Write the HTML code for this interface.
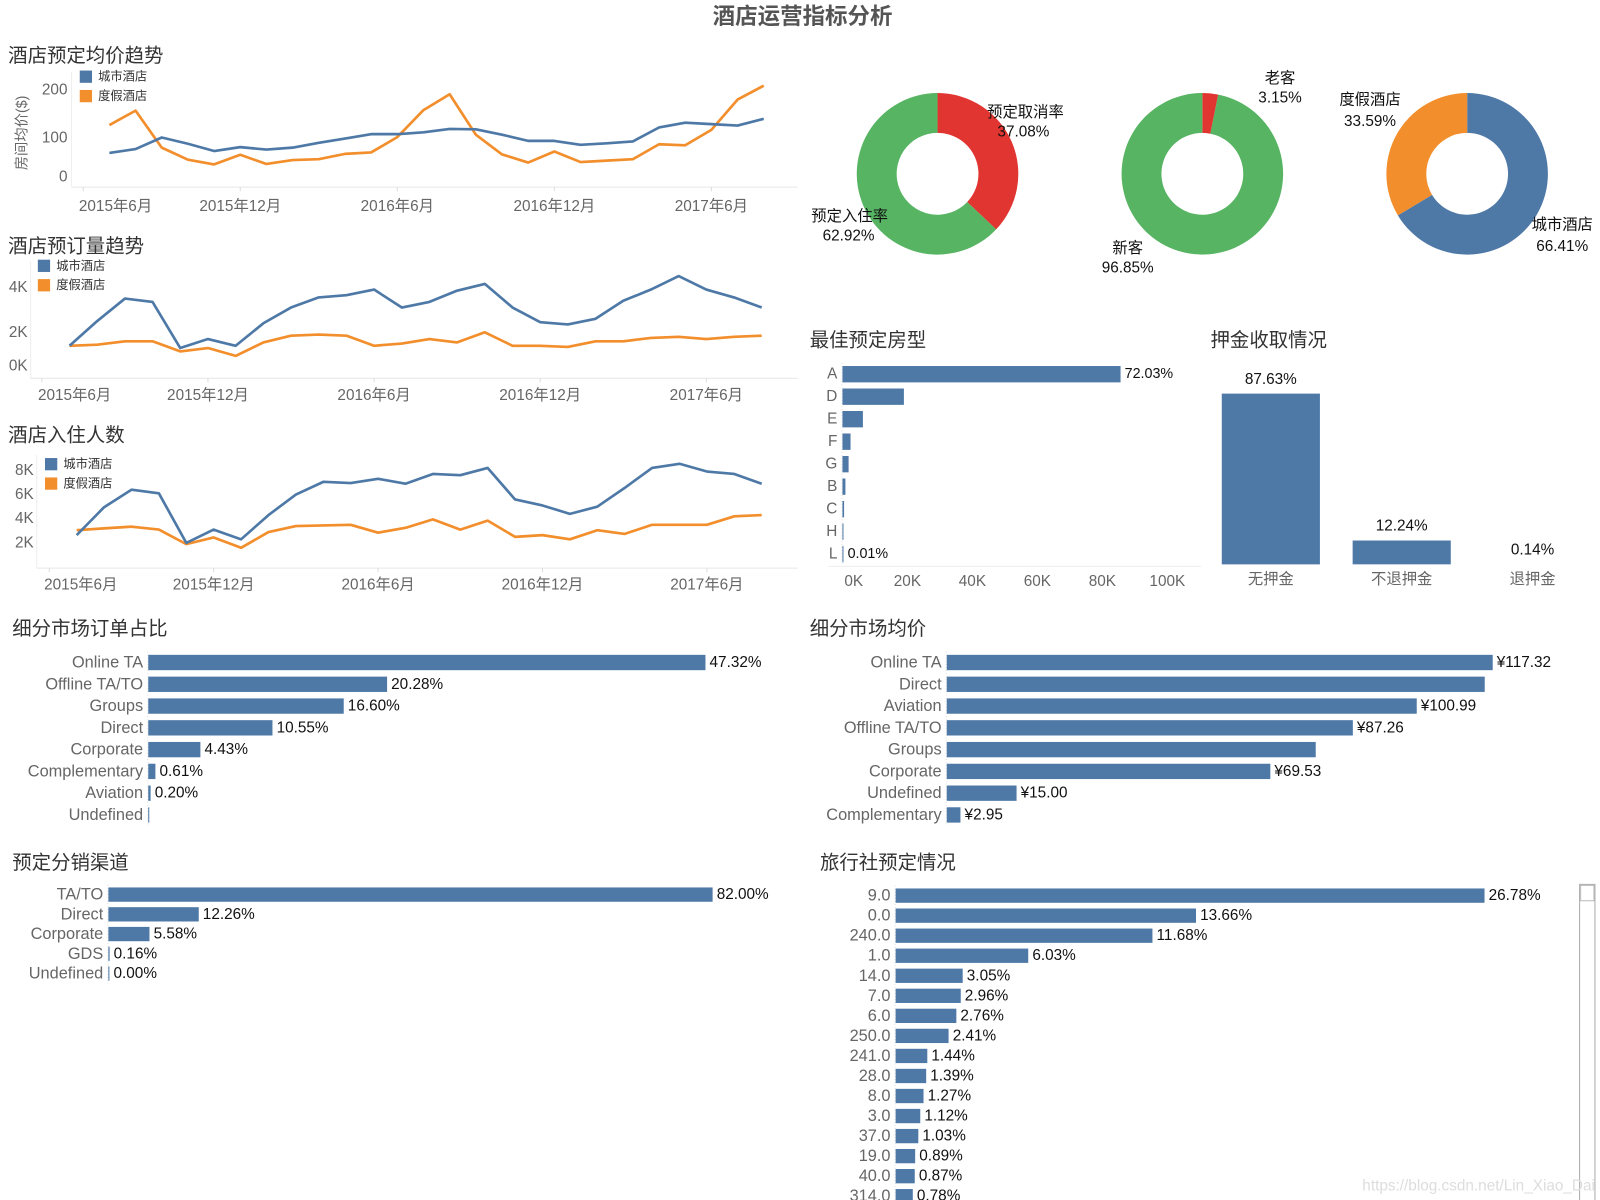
<!DOCTYPE html>
<html><head><meta charset="utf-8"><title>酒店运营指标分析</title>
<style>
html,body{margin:0;padding:0;background:#fff;width:1600px;height:1200px;overflow:hidden;}
#wrap{width:1565px;height:1174px;transform:scale(1.0224);transform-origin:0 0;}
svg text{font-family:"Liberation Sans","Noto Sans CJK SC",sans-serif;}
</style></head>
<body>
<div id="wrap">
<svg id="svg" width="1565" height="1174" viewBox="0 0 1565 1174" xmlns="http://www.w3.org/2000/svg">
<text x="785" y="16" text-anchor="middle" dominant-baseline="central" font-size="22" font-weight="bold" fill="#555">酒店运营指标分析</text>

<text x="8" y="55" dominant-baseline="central" font-size="19" fill="#333">酒店预定均价趋势</text>
<text x="8" y="241" dominant-baseline="central" font-size="19" fill="#333">酒店预订量趋势</text>
<text x="8" y="426" dominant-baseline="central" font-size="19" fill="#333">酒店入住人数</text>
<text x="792" y="333" dominant-baseline="central" font-size="19" fill="#333">最佳预定房型</text>
<text x="1184" y="333" dominant-baseline="central" font-size="19" fill="#333">押金收取情况</text>
<text x="12" y="615" dominant-baseline="central" font-size="19" fill="#333">细分市场订单占比</text>
<text x="792" y="615" dominant-baseline="central" font-size="19" fill="#333">细分市场均价</text>
<text x="12" y="844" dominant-baseline="central" font-size="19" fill="#333">预定分销渠道</text>
<text x="802" y="844" dominant-baseline="central" font-size="19" fill="#333">旅行社预定情况</text>

<text transform="translate(22,130) rotate(-90)" text-anchor="middle" dominant-baseline="central" font-size="14" fill="#666">房间均价($)</text>

<rect x="78" y="69" width="12" height="12" fill="#4E79A7"/>
<text x="96" y="75" dominant-baseline="central" font-size="12" fill="#333">城市酒店</text>
<rect x="78" y="88" width="12" height="12" fill="#F28E2B"/>
<text x="96" y="94" dominant-baseline="central" font-size="12" fill="#333">度假酒店</text>
<rect x="37" y="254" width="12" height="12" fill="#4E79A7"/>
<text x="55" y="260" dominant-baseline="central" font-size="12" fill="#333">城市酒店</text>
<rect x="37" y="273" width="12" height="12" fill="#F28E2B"/>
<text x="55" y="279" dominant-baseline="central" font-size="12" fill="#333">度假酒店</text>
<rect x="44" y="448" width="12" height="12" fill="#4E79A7"/>
<text x="62" y="454" dominant-baseline="central" font-size="12" fill="#333">城市酒店</text>
<rect x="44" y="467" width="12" height="12" fill="#F28E2B"/>
<text x="62" y="473" dominant-baseline="central" font-size="12" fill="#333">度假酒店</text>

<g font-size="15" fill="#111" text-anchor="middle">
<text x="1003" y="110" dominant-baseline="central">预定取消率</text>
<text x="1001" y="129" dominant-baseline="central">37.08%</text>
<text x="831" y="212" dominant-baseline="central">预定入住率</text>
<text x="830" y="231" dominant-baseline="central">62.92%</text>
<text x="1252" y="77" dominant-baseline="central">老客</text>
<text x="1252" y="96" dominant-baseline="central">3.15%</text>
<text x="1103" y="243" dominant-baseline="central">新客</text>
<text x="1103" y="262" dominant-baseline="central">96.85%</text>
<text x="1340" y="98" dominant-baseline="central">度假酒店</text>
<text x="1340" y="119" dominant-baseline="central">33.59%</text>
<text x="1528" y="220" dominant-baseline="central">城市酒店</text>
<text x="1528" y="241" dominant-baseline="central">66.41%</text>
</g>

<rect x="1545" y="865" width="15" height="310" fill="#fff" stroke="#aaa" stroke-width="1"/>
<rect x="1546" y="866" width="13" height="15" fill="#fff" stroke="#bbb" stroke-width="1"/>

<text x="1560" y="1160" text-anchor="end" dominant-baseline="central" font-size="15" fill="#ddd">https://blog.csdn.net/Lin_Xiao_Dai</text>
</svg>
</div>
<script>
const months = ['2015-07','2015-08','2015-09','2015-10','2015-11','2015-12','2016-01','2016-02','2016-03','2016-04','2016-05','2016-06','2016-07','2016-08','2016-09','2016-10','2016-11','2016-12','2017-01','2017-02','2017-03','2017-04','2017-05','2017-06','2017-07','2017-08'];
const timeTickLabels = ['2015年6月','2015年12月','2016年6月','2016年12月','2017年6月'];
const timeTickIndex = [-1,5,11,17,23];
const cityPrice = [69,77,101,88,73,81,76,80,90,99,108,108,112,119,118,107,94,94,86,89,93,122,132,129,126,140];
const resortPrice = [127,157,80,55,45,65,46,54,56,67,70,102,158,191,107,66,49,72,50,53,56,87,85,117,180,209];
const priceTicks = [0,100,200];
const priceTickLabels = ['0','100','200'];
const cityBookings = [1400,2500,3500,3350,1300,1700,1400,2400,3100,3550,3650,3900,3100,3350,3850,4150,3100,2450,2350,2600,3400,3900,4500,3900,3550,3100];
const resortBookings = [1400,1450,1600,1600,1150,1300,950,1550,1850,1900,1850,1400,1500,1700,1550,2000,1400,1400,1350,1600,1600,1750,1800,1700,1800,1850];
const bookingTicks = [0,2000,4000];
const bookingTickLabels = ['0K','2K','4K'];
const cityGuests = [2650,4950,6400,6100,2000,3100,2300,4300,6000,7050,6950,7300,6900,7700,7600,8200,5600,5100,4400,5000,6550,8200,8550,7900,7700,6900];
const resortGuests = [3050,3200,3350,3100,1900,2450,1600,2900,3400,3450,3500,2850,3250,3950,3100,3850,2500,2650,2300,3050,2750,3500,3500,3500,4200,4300];
const guestTicks = [2000,4000,6000,8000];
const guestTickLabels = ['2K','4K','6K','8K'];

const cancelShare = [37.08,62.92];
const guestTypeShare = [3.15,96.85];
const hotelShare = [66.41,33.59];

const roomTypes = ['A','D','E','F','G','B','C','H','L'];
const roomCounts = [85600,18900,6300,2500,1900,900,500,200,10];
const roomLabels = ['72.03%','','','','','','','','0.01%'];
const roomTicks = [0,20000,40000,60000,80000,100000];
const roomTickLabels = ['0K','20K','40K','60K','80K','100K'];

const depositTypes = ['无押金','不退押金','退押金'];
const depositShare = [87.63,12.24,0.14];
const depositLabels = ['87.63%','12.24%','0.14%'];

const segments = ['Online TA','Offline TA/TO','Groups','Direct','Corporate','Complementary','Aviation','Undefined'];
const segmentShare = [47.32,20.28,16.60,10.55,4.43,0.61,0.20,0.002];
const segmentShareLabels = ['47.32%','20.28%','16.60%','10.55%','4.43%','0.61%','0.20%',''];

const priceSegments = ['Online TA','Direct','Aviation','Offline TA/TO','Groups','Corporate','Undefined','Complementary'];
const segmentPrice = [117.32,115.6,100.99,87.26,79.3,69.53,15.00,2.95];
const segmentPriceLabels = ['¥117.32','','¥100.99','¥87.26','','¥69.53','¥15.00','¥2.95'];

const channels = ['TA/TO','Direct','Corporate','GDS','Undefined'];
const channelShare = [82.00,12.26,5.58,0.16,0.00];
const channelLabels = ['82.00%','12.26%','5.58%','0.16%','0.00%'];

const agents = ['9.0','0.0','240.0','1.0','14.0','7.0','6.0','250.0','241.0','28.0','8.0','3.0','37.0','19.0','40.0','314.0'];
const agentShare = [26.78,13.66,11.68,6.03,3.05,2.96,2.76,2.41,1.44,1.39,1.27,1.12,1.03,0.89,0.87,0.78];
const agentLabels = ['26.78%','13.66%','11.68%','6.03%','3.05%','2.96%','2.76%','2.41%','1.44%','1.39%','1.27%','1.12%','1.03%','0.89%','0.87%','0.78%'];

const NS='http://www.w3.org/2000/svg';
const svg=document.getElementById('svg');
function mk(tag,parent){const e=document.createElementNS(NS,tag);(parent||svg).appendChild(e);return e;}
function txt(parent,x,y,s,size,fill,anchor){const e=mk('text',parent);e.setAttribute('x',x);e.setAttribute('y',y);e.setAttribute('font-size',size);e.setAttribute('fill',fill);e.setAttribute('text-anchor',anchor||'start');e.setAttribute('dominant-baseline','central');e.textContent=s;return e;}
function line(parent,x1,y1,x2,y2,c){const e=mk('line',parent);e.setAttribute('x1',x1);e.setAttribute('y1',y1);e.setAttribute('x2',x2);e.setAttribute('y2',y2);e.setAttribute('stroke',c);e.setAttribute('stroke-width',1);return e;}

function lineChart(key,cfg,city,resort,ticks,tickLabels){
  const g=mk('g');
  
  
  const xs=i=>cfg.x0+(cfg.x1-cfg.x0)*i/(months.length-1);
  const ys=v=>cfg.yBase-v*cfg.k;
  const ax=line(g,cfg.axL,cfg.yBase+1,780,cfg.yBase+1,'#e6e6e6');
  
  
  const ay=line(g,cfg.axL,cfg.yTop,cfg.axL,cfg.yBase+1,'#eee');
  
  
  ticks.forEach((v,i)=>{
    let y=ys(v); if(i===0&&cfg.zeroLift) y-=cfg.zeroLift;
    const t=txt(g,cfg.tickR,y,tickLabels[i],15,'#666','end');
    
    
  });
  timeTickIndex.forEach((idx,i)=>{
    const x=Math.max(xs(idx),cfg.minLabel);
    const t=txt(g,x,cfg.labelY,timeTickLabels[i],15,'#666','middle');
    
    
    const tk=line(g,xs(idx),cfg.yBase+1,xs(idx),cfg.yBase+5,'#ddd');
    
    
  });
  [[resort,'#F28E2B','resort'],[city,'#4E79A7','city']].forEach(([arr,c,n])=>{
    const p=mk('polyline',g);
    p.setAttribute('points',arr.map((v,i)=>xs(i).toFixed(1)+','+ys(v).toFixed(1)).join(' '));
    p.setAttribute('fill','none');p.setAttribute('stroke',c);p.setAttribute('stroke-width',2.6);p.setAttribute('stroke-linejoin','round');
    
    
  });
}
lineChart('price',{x0:107,x1:747,yBase:182,k:0.47,yTop:70,axL:70,tickR:66,zeroLift:9,labelY:202,minLabel:113},cityPrice,resortPrice,priceTicks,priceTickLabels);
lineChart('booking',{x0:68,x1:745,yBase:369,k:0.022,yTop:255,axL:30,tickR:27,zeroLift:11,labelY:387,minLabel:73},cityBookings,resortBookings,bookingTicks,bookingTickLabels);
lineChart('guests',{x0:75,x1:745,yBase:554.7,k:0.01183,yTop:445,axL:36,tickR:33,zeroLift:0,labelY:572,minLabel:79},cityGuests,resortGuests,guestTicks,guestTickLabels);

function donut(key,cx,cy,vals,colors){
  const g=document.createElementNS(NS,'g');
  svg.insertBefore(g,svg.firstChild);
  
  
  const R=79,r=40,tot=vals.reduce((a,b)=>a+b,0);let a0=0;
  vals.forEach((v,i)=>{
    const a1=a0+v/tot*2*Math.PI;
    const pt=(rad,a)=>[cx+rad*Math.sin(a),cy-rad*Math.cos(a)];
    const [x1,y1]=pt(R,a0),[x2,y2]=pt(R,a1),[x3,y3]=pt(r,a1),[x4,y4]=pt(r,a0);
    const lg=(a1-a0)>Math.PI?1:0;
    const p=mk('path',g);
    p.setAttribute('d',`M${x1},${y1}A${R},${R} 0 ${lg} 1 ${x2},${y2}L${x3},${y3}A${r},${r} 0 ${lg} 0 ${x4},${y4}Z`);
    p.setAttribute('fill',colors[i]);
    
    
    a0=a1;
  });
}
donut('cancel',917,170,cancelShare,['#E03531','#56B462']);
donut('guest-type',1176,170,guestTypeShare,['#E03531','#56B462']);
donut('hotel-type',1435,170,hotelShare,['#4E79A7','#F28E2B']);

function hbar(key,cats,vals,labels,cfg){
  const g=mk('g');
  
  
  const ax=line(g,cfg.x0-0.5,cfg.y0-cfg.step/2,cfg.x0-0.5,cfg.y0+cfg.step*(cats.length-0.5),'#ddd');
  ax.setAttribute('stroke-dasharray','1,2');
  
  
  cats.forEach((c,i)=>{
    const y=cfg.y0+i*cfg.step;
    const w=Math.max(vals[i]*cfg.k,cfg.minW||0);
    const b=mk('rect',g);
    b.setAttribute('x',cfg.x0);b.setAttribute('y',y-cfg.h/2);b.setAttribute('width',w.toFixed(1));b.setAttribute('height',cfg.h);b.setAttribute('fill','#4E79A7');
    
    
    const l=txt(g,cfg.x0-5,y,c,cfg.fs,'#666','end');
    
    
    if(labels[i]){
      const v=txt(g,cfg.x0+w+4,y,labels[i],cfg.fs-1,'#111','start');
      
      
    }
  });
  return g;
}
const rg=hbar('room-type',roomTypes,roomCounts,roomLabels,{x0:824,y0:366,step:22,h:16,k:272/85600,fs:15,minW:1});
roomTicks.forEach((v,i)=>{
  const t=txt(rg,824+v*272/85600,569,roomTickLabels[i],15,'#666','middle');
  if(i===0) t.setAttribute('x',835);
  
  
});
const ra=line(rg,810,554,1175,554,'#eee');



hbar('segment-share',segments,segmentShare,segmentShareLabels,{x0:145,y0:648,step:21.3,h:15,k:545/47.32,fs:16,minW:1});
hbar('segment-price',priceSegments,segmentPrice,segmentPriceLabels,{x0:926,y0:648,step:21.3,h:15,k:534/117.32,fs:16,minW:1});
hbar('channel',channels,channelShare,channelLabels,{x0:106,y0:875,step:19.3,h:14,k:591/82,fs:16,minW:1});
hbar('agent',agents,agentShare,agentLabels,{x0:876,y0:876,step:19.6,h:14,k:576/26.78,fs:16,minW:1});

const dg=mk('g');


const dBase=552,dK=167/87.63,dCenters=[1243,1371,1499];
depositTypes.forEach((c,i)=>{
  const h=depositShare[i]*dK;
  const b=mk('rect',dg);
  b.setAttribute('x',dCenters[i]-48);b.setAttribute('y',dBase-h);b.setAttribute('width',96);b.setAttribute('height',h.toFixed(1));b.setAttribute('fill', h<1 ? '#fff' : '#4E79A7');
  
  
  const v=txt(dg,dCenters[i],Math.min(dBase-h-14,539),depositLabels[i],15,'#111','middle');
  
  
  const l=txt(dg,dCenters[i],567,c,15,'#666','middle');
  
  
});
</script>
</body></html>
